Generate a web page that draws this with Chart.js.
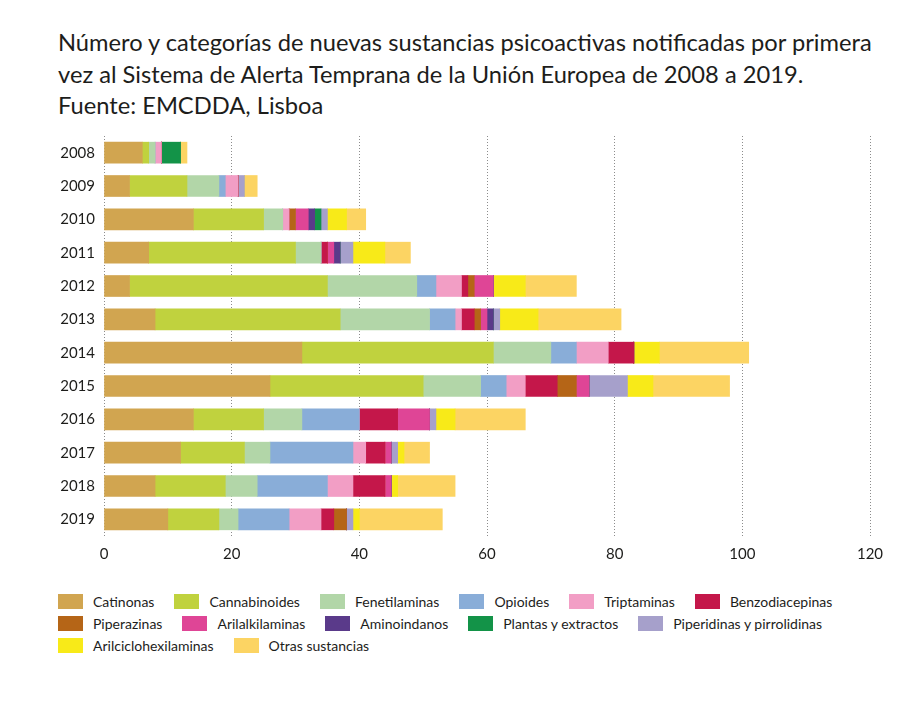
<!DOCTYPE html>
<html lang="es">
<head>
<meta charset="utf-8">
<script src="https://cdn.jsdelivr.net/npm/chart.js@4.4.1/dist/chart.umd.min.js"></script>
<style>
  html, body { margin: 0; padding: 0; background: #fff; }
  body { width: 922px; height: 705px; position: relative; overflow: hidden; font-family: Lato, "Open Sans", sans-serif; color: #1d1d1b; }
  #title { position: absolute; left: 58px; top: 27px; font-size: 23.7px; line-height: 31.5px; margin: 0; font-weight: normal; white-space: nowrap; }
  #wrap { position: absolute; left: 0; top: 0; width: 922px; height: 580px; }
  #legend { position: absolute; left: 58px; top: 590px; width: 850px; display: flex; flex-wrap: wrap; font-size: 14px; }
  .item { display: flex; align-items: center; height: 22px; margin-right: 20px; white-space: nowrap; }
  .box { width: 25px; height: 15px; margin-right: 10px; }
</style>
</head>
<body>
<h1 id="title">Número y categorías de nuevas sustancias psicoactivas notificadas por primera<br>vez al Sistema de Alerta Temprana de la Unión Europea de 2008 a 2019.<br>Fuente: EMCDDA, Lisboa</h1>
<div id="wrap"><canvas id="chart"></canvas></div>
<div id="legend"></div>
<script>
// años (categorías)
const years = ['2008', '2009', '2010', '2011', '2012', '2013', '2014', '2015', '2016', '2017', '2018', '2019'];

// series
const catinonas       = [6, 4, 14, 7, 4, 8, 31, 26, 14, 12, 8, 10];
const cannabinoides   = [1, 9, 11, 23, 31, 29, 30, 24, 11, 10, 11, 8];
const fenetilaminas   = [1, 5, 3, 4, 14, 14, 9, 9, 6, 4, 5, 3];
const opioides        = [0, 1, 0, 0, 3, 4, 4, 4, 9, 13, 11, 8];
const triptaminas     = [1, 2, 1, 0, 4, 1, 5, 3, 0, 2, 4, 5];
const benzodiacepinas = [0, 0, 0, 1, 1, 2, 4, 5, 6, 3, 5, 2];
const piperazinas     = [0, 0, 1, 0, 1, 1, 0, 3, 0, 0, 0, 2];
const arilalkilaminas = [0, 0, 2, 1, 3, 1, 0, 2, 5, 1, 1, 0];
const aminoindanos    = [0, 0, 1, 1, 0, 1, 0, 0, 0, 0, 0, 0];
const plantas         = [3, 0, 1, 0, 0, 0, 0, 0, 0, 0, 0, 0];
const piperidinas     = [0, 1, 1, 2, 0, 1, 0, 6, 1, 1, 0, 1];
const arilciclohex    = [0, 0, 3, 5, 5, 6, 4, 4, 3, 1, 1, 1];
const otras           = [1, 2, 3, 4, 8, 13, 14, 12, 11, 4, 9, 13];

const xTicks = [0, 20, 40, 60, 80, 100, 120];

const series = [
    { label: 'Catinonas',                  data: catinonas,       color: '#D1A550' },
    { label: 'Cannabinoides',              data: cannabinoides,   color: '#C0D23E' },
    { label: 'Fenetilaminas',              data: fenetilaminas,   color: '#B2D6A8' },
    { label: 'Opioides',                   data: opioides,        color: '#89ADD8' },
    { label: 'Triptaminas',                data: triptaminas,     color: '#F29EC5' },
    { label: 'Benzodiacepinas',            data: benzodiacepinas, color: '#C4174A' },
    { label: 'Piperazinas',                data: piperazinas,     color: '#B56517' },
    { label: 'Arilalkilaminas',            data: arilalkilaminas, color: '#DF4596' },
    { label: 'Aminoindanos',               data: aminoindanos,    color: '#5A3A8A' },
    { label: 'Plantas y extractos',        data: plantas,         color: '#139348' },
    { label: 'Piperidinas y pirrolidinas', data: piperidinas,     color: '#A6A0CB' },
    { label: 'Arilciclohexilaminas',       data: arilciclohex,    color: '#F8EA18' },
    { label: 'Otras sustancias',           data: otras,           color: '#FCD463' },
];

const textColor = '#1d1d1b';
const font = { family: 'Lato', size: 15 };

new Chart(document.getElementById('chart'), {
    type: 'bar',
    data: {
        labels: years,
        datasets: series.map(s => ({
            label          : s.label,
            data           : s.data,
            backgroundColor: s.color,
            borderWidth    : 0,
            barThickness   : 21,
        }))
    },
    options: {
        indexAxis : 'y',
        responsive: true,
        maintainAspectRatio: false,
        animation : false,
        layout    : { padding: { top: 136, right: 52, bottom: 0, left: 0 } },
        plugins   : {
            legend : { display: false },
            tooltip: { enabled: false },
        },
        scales: {
            x: {
                stacked: true,
                min: 0,
                max: 120,
                afterBuildTicks: axis => { axis.ticks = xTicks.map(v => ({ value: v })); },
                afterFit: axis => { axis.height = 44; },
                grid   : { color: '#8c8c8c', lineWidth: 1, drawTicks: false },
                border : { display: false, dash: [1, 2] },
                ticks  : { color: textColor, font: font, padding: 9 },
            },
            y: {
                stacked: true,
                afterFit: axis => { axis.width = 104; },
                grid   : { display: false, drawTicks: false },
                border : { display: false },
                ticks  : { color: textColor, font: font, padding: 9 },
            }
        }
    }
});

// leyenda
const legend = document.getElementById('legend');
series.forEach(s => {
    const item = document.createElement('div');
    item.className = 'item';
    const box = document.createElement('span');
    box.className = 'box';
    box.style.background = s.color;
    item.appendChild(box);
    item.appendChild(document.createTextNode(s.label));
    legend.appendChild(item);
});
</script>
</body>
</html>
